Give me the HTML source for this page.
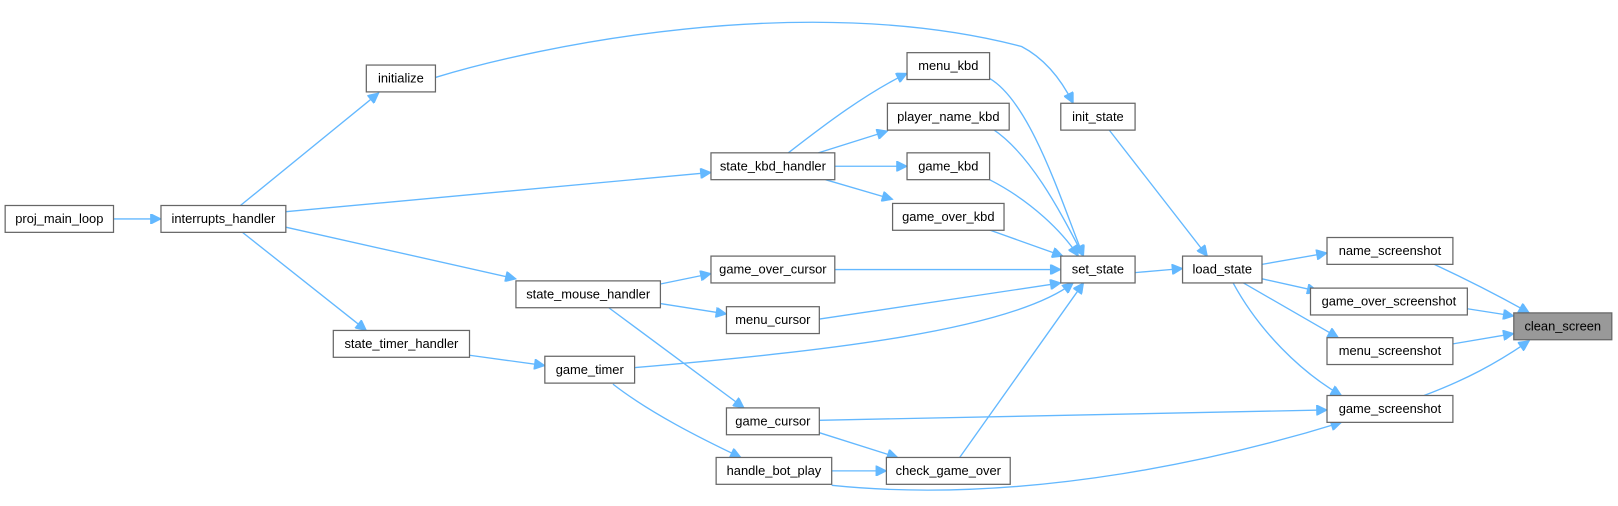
<!DOCTYPE html>
<html><head><meta charset="utf-8"><style>
html,body{margin:0;padding:0;background:#fff;}
svg{display:block}
text{font-family:"Liberation Sans",sans-serif;font-size:12.5px;fill:#000;text-anchor:middle;}
.b{fill:#fff;stroke:#666;stroke-width:1.2}
.e{fill:none;stroke:#63b8ff;stroke-width:1.3}
</style></head><body>
<svg width="1618" height="506" viewBox="0 0 1568 490" preserveAspectRatio="none">
<defs><marker id="a" viewBox="0 0 10 10" refX="10" refY="5" markerWidth="14" markerHeight="10" markerUnits="userSpaceOnUse" orient="auto"><path d="M0,0L10,5L0,10z" fill="#63b8ff" stroke="#63b8ff"/></marker></defs>
<g class="e" marker-end="url(#a)">
<path d="M110,212L156,212"/>
<path d="M233,199L367,90"/>
<path d="M277,205L689,167"/>
<path d="M277,220L500,270"/>
<path d="M235,225L355,320"/>
<path d="M422,75C520,45 780,-10 990,45C1015,58 1030,80 1040,100"/>
<path d="M764,148C800,120 840,90 879,71"/>
<path d="M793,148L860,127"/>
<path d="M809,161L879,161"/>
<path d="M800,174L865,193"/>
<path d="M640,275L689,265"/>
<path d="M640,294L704,304"/>
<path d="M590,298L721,395"/>
<path d="M455,344L528,354"/>
<path d="M594,372C630,400 680,425 718,443"/>
<path d="M794,419L870,443"/>
<path d="M806,456L859,456"/>
<path d="M959,76C1000,100 1030,200 1050,248"/>
<path d="M962,125C1000,150 1030,210 1050,248"/>
<path d="M959,174C1000,195 1030,225 1045,248"/>
<path d="M957,222L1030,248"/>
<path d="M809,261L1028,261"/>
<path d="M794,309L1028,274"/>
<path d="M615,356C800,340 980,320 1040,274"/>
<path d="M930,443L1050,274"/>
<path d="M1075,126L1170,248"/>
<path d="M1100,264L1146,260"/>
<path d="M1223,256L1286,245"/>
<path d="M1223,270L1277,282"/>
<path d="M1205,274L1297,327"/>
<path d="M1195,274C1220,320 1260,360 1300,383"/>
<path d="M794,407L1286,397"/>
<path d="M806,470C1000,490 1200,440 1300,409"/>
<path d="M1390,256C1420,270 1450,285 1482,303"/>
<path d="M1422,299L1467,306"/>
<path d="M1408,333L1467,323"/>
<path d="M1380,383C1420,368 1450,352 1482,330"/>
</g>
<g>
<rect class="b" x="5" y="199" width="105" height="26"/><text x="57.5" y="216">proj_main_loop</text>
<rect class="b" x="156" y="199" width="121" height="26"/><text x="216.5" y="216">interrupts_handler</text>
<rect class="b" x="355" y="63" width="67" height="26"/><text x="388.5" y="80">initialize</text>
<rect class="b" x="689" y="148" width="120" height="26"/><text x="749" y="165">state_kbd_handler</text>
<rect class="b" x="500" y="272" width="140" height="26"/><text x="570" y="289">state_mouse_handler</text>
<rect class="b" x="323" y="320" width="132" height="26"/><text x="389" y="337">state_timer_handler</text>
<rect class="b" x="879" y="51" width="80" height="26"/><text x="919" y="68">menu_kbd</text>
<rect class="b" x="860" y="100" width="118" height="26"/><text x="919" y="117">player_name_kbd</text>
<rect class="b" x="879" y="148" width="80" height="26"/><text x="919" y="165">game_kbd</text>
<rect class="b" x="865" y="197" width="108" height="26"/><text x="919" y="214">game_over_kbd</text>
<rect class="b" x="689" y="248" width="120" height="26"/><text x="749" y="265">game_over_cursor</text>
<rect class="b" x="704" y="297" width="90" height="26"/><text x="749" y="314">menu_cursor</text>
<rect class="b" x="528" y="345" width="87" height="26"/><text x="571.5" y="362">game_timer</text>
<rect class="b" x="704" y="395" width="90" height="26"/><text x="749" y="412">game_cursor</text>
<rect class="b" x="694" y="443" width="112" height="26"/><text x="750" y="460">handle_bot_play</text>
<rect class="b" x="859" y="443" width="120" height="26"/><text x="919" y="460">check_game_over</text>
<rect class="b" x="1028" y="100" width="72" height="26"/><text x="1064" y="117">init_state</text>
<rect class="b" x="1028" y="248" width="72" height="26"/><text x="1064" y="265">set_state</text>
<rect class="b" x="1146" y="248" width="77" height="26"/><text x="1184.5" y="265">load_state</text>
<rect class="b" x="1286" y="230" width="122" height="26"/><text x="1347" y="247">name_screenshot</text>
<rect class="b" x="1270" y="279" width="152" height="26"/><text x="1346" y="296">game_over_screenshot</text>
<rect class="b" x="1286" y="327" width="122" height="26"/><text x="1347" y="344">menu_screenshot</text>
<rect class="b" x="1286" y="383" width="122" height="26"/><text x="1347" y="400">game_screenshot</text>
<rect x="1467" y="303" width="95" height="26" fill="#999" stroke="#666" stroke-width="1.2"/><text x="1514.5" y="320">clean_screen</text>
</g>
</svg>
</body></html>
